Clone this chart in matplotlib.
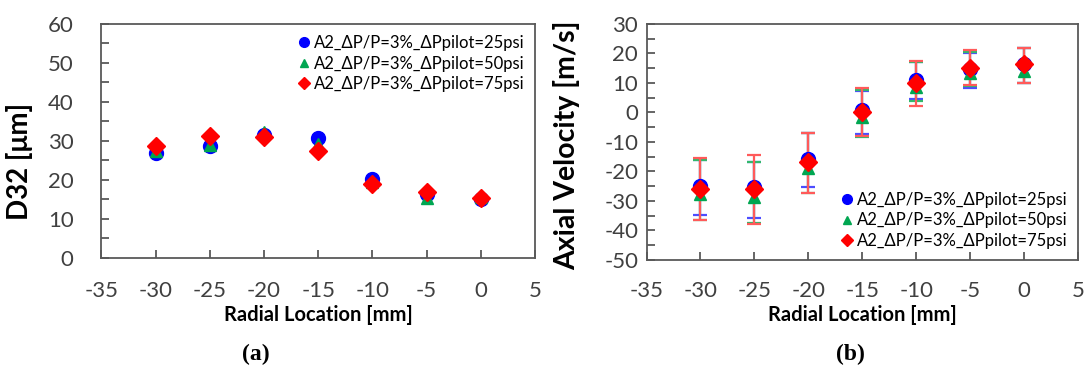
import matplotlib
matplotlib.use("Agg")
import matplotlib.pyplot as plt
from matplotlib.ticker import MultipleLocator

# ==============================================================================
# Datos
# ==============================================================================
radial = [-30, -25, -20, -15, -10, -5, 0]
labels = ["A2_ΔP/P=3%_ΔPpilot=25psi",
          "A2_ΔP/P=3%_ΔPpilot=50psi",
          "A2_ΔP/P=3%_ΔPpilot=75psi"]

# (a) D32 [um]
d32_25 = [26.8, 28.8, 31.4, 30.8, 20.1, 16.4, 15.0]
d32_50 = [27.4, 28.9, 32.4, 29.2, 19.5, 15.3, 15.6]
d32_75 = [28.8, 31.3, 30.9, 27.3, 18.9, 16.8, 15.3]

# (b) Velocidad axial [m/s] y extremos de las barras de error
vel_25 = [-25.0, -25.1, -15.8, 1.0, 10.9, 14.8, 16.5]
vel_50 = [-27.7, -28.7, -18.9, -1.6, 8.5, 13.3, 14.2]
vel_75 = [-26.0, -26.0, -16.9, 0.3, 10.1, 15.2, 16.3]

hi_25 = [-16.1, -16.9, -7.0, 7.3, 17.2, 20.1, 21.7]
lo_25 = [-34.7, -35.6, -25.1, -7.3, 4.5, 8.2, 9.9]
hi_50 = [-16.0, -16.9, -7.0, 7.5, 17.2, 20.6, 21.7]
lo_50 = [-36.4, -37.3, -27.2, -8.3, 4.0, 8.9, 9.9]
hi_75 = [-15.5, -14.4, -6.8, 8.2, 17.5, 21.2, 21.7]
lo_75 = [-36.4, -37.9, -27.2, -7.8, 2.2, 9.3, 9.9]

plt.rcParams['font.family'] = ['Lato', 'DejaVu Sans']
plt.rcParams['axes.unicode_minus'] = False

fig = plt.figure(figsize=(10.89, 3.75), dpi=100)
ax1 = fig.add_axes([0.0932, 0.3128, 0.3981, 0.6232])
ax2 = fig.add_axes([0.5937, 0.3067, 0.3962, 0.6293])

spine_col = "#595959"
styles = [("o", "#0000ff", 10), ("^", "#00a651", 9), ("D", "#ff0000", 9)]


def style_axis(ax, xpad, ypad):
    for s in ax.spines.values():
        s.set_color(spine_col)
        s.set_linewidth(1.3)
    ax.set_xlim(-35, 5)
    ax.xaxis.set_major_locator(MultipleLocator(5))
    ax.yaxis.set_minor_locator(MultipleLocator(5))
    ax.tick_params(axis="both", which="both", direction="in", color=spine_col,
                   labelsize=16, labelcolor="#404040")
    ax.tick_params(axis="x", which="major", length=6, width=1.3, pad=xpad)
    ax.tick_params(axis="y", which="major", length=6, width=1.3, pad=ypad)
    ax.tick_params(axis="y", which="minor", length=6, width=1.3)
    ax.tick_params(top=False, right=False, which="both")
    ax.set_xlabel("Radial Location [mm]", fontsize=14.5, fontweight="bold", labelpad=3)


# ------------------------------------------------------------------------------
# (a) D32
# ------------------------------------------------------------------------------
for ys, (m, c, ms), lab in zip([d32_25, d32_50, d32_75], styles, labels):
    ax1.plot(radial, ys, linestyle="none", marker=m, color=c, markersize=ms, label=lab)
ax1.set_ylim(0, 60)
ax1.yaxis.set_major_locator(MultipleLocator(10))
style_axis(ax1, 17, 20)
ax1.set_ylabel("D32 [μm]", fontsize=20, fontweight="bold")
ax1.yaxis.set_label_coords(-0.158, 0.41)
ax1.legend(loc="upper right", frameon=False, fontsize=12, handletextpad=0.05,
           handlelength=1.0, labelspacing=0.28, borderaxespad=0.25, markerscale=0.7)

# ------------------------------------------------------------------------------
# (b) Velocidad axial
# ------------------------------------------------------------------------------
series = [(vel_25, lo_25, hi_25), (vel_50, lo_50, hi_50), (vel_75, lo_75, hi_75)]
err_cols = ["#4d4dff", "#33b86b", "#ff5a5a"]
for (ys, lo, hi), (m, c, ms), ec, lab in zip(series, styles, err_cols, labels):
    yerr = [[y - l for y, l in zip(ys, lo)], [h - y for y, h in zip(ys, hi)]]
    ax2.errorbar(radial, ys, yerr=yerr, linestyle="none", marker=m, color=c,
                 markersize=ms, ecolor=ec, elinewidth=1.6, capsize=5, capthick=1.6,
                 label=lab)
ax2.set_ylim(-50, 30)
ax2.yaxis.set_major_locator(MultipleLocator(10))
style_axis(ax2, 15, 6)
ax2.set_ylabel("Axial Velocity [m/s]", fontsize=20.5, fontweight="bold")
ax2.yaxis.set_label_coords(-0.154, 0.487)
h, l = ax2.get_legend_handles_labels()
h = [x[0] for x in h]
ax2.legend(h, l, loc="lower right", frameon=False, fontsize=12, handletextpad=0.05,
           handlelength=1.0, labelspacing=0.28, borderaxespad=0.25, markerscale=0.7)

# Rotulos (a) y (b)
fig.text(0.235, 0.04, "(a)", fontsize=17, fontweight="bold",
         family="Liberation Serif", ha="center")
fig.text(0.781, 0.04, "(b)", fontsize=17, fontweight="bold",
         family="Liberation Serif", ha="center")

fig.savefig("out.png", dpi=100, facecolor="white")
